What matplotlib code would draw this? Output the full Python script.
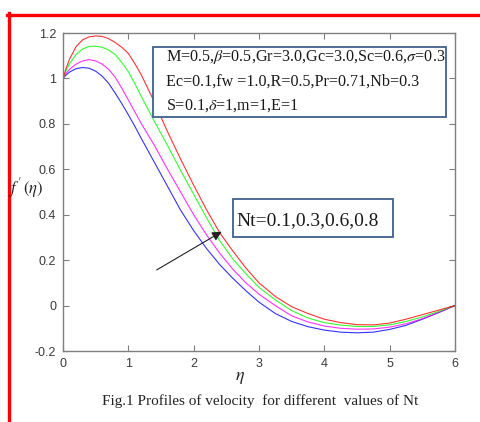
import matplotlib
matplotlib.use("Agg")
import matplotlib.pyplot as plt
from matplotlib.lines import Line2D
from matplotlib.patches import Rectangle

# ---- data ----
eta = [0, 0.05, 0.1, 0.2, 0.3, 0.4, 0.5, 0.6, 0.7, 0.8, 0.9, 1.0, 1.1, 1.2, 1.4, 1.6,
       1.8, 2.0, 2.2, 2.4, 2.6, 2.8, 3.0, 3.25, 3.5, 3.75, 4.0, 4.25, 4.5, 4.75,
       5.0, 5.25, 5.5, 5.75, 6.0]

f_nt01 = [1.0, 1.016, 1.028, 1.043, 1.048, 1.045, 1.032, 1.01, 0.978, 0.935, 0.889,
          0.84, 0.789, 0.735, 0.63, 0.525, 0.42, 0.33, 0.25, 0.18, 0.12, 0.065,
          0.015, -0.035, -0.07, -0.093, -0.108, -0.117, -0.12, -0.117, -0.105,
          -0.087, -0.06, -0.031, 0.0]
f_nt03 = [1.0, 1.023, 1.04, 1.063, 1.077, 1.083, 1.077, 1.063, 1.04, 1.005, 0.957,
          0.905, 0.853, 0.80, 0.705, 0.60, 0.50, 0.40, 0.31, 0.23, 0.16, 0.10, 0.05,
          0.0, -0.045, -0.072, -0.09, -0.10, -0.104, -0.103, -0.095, -0.08, -0.058,
          -0.03, 0.0]
f_nt06 = [1.0, 1.036, 1.065, 1.105, 1.13, 1.141, 1.142, 1.137, 1.125, 1.105, 1.07,
          1.03, 0.977, 0.92, 0.81, 0.705, 0.595, 0.49, 0.385, 0.285, 0.205, 0.14,
          0.08, 0.025, -0.022, -0.055, -0.075, -0.086, -0.092, -0.092, -0.085,
          -0.07, -0.05, -0.026, 0.0]
f_nt08 = [1.0, 1.047, 1.085, 1.14, 1.17, 1.183, 1.187, 1.185, 1.175, 1.158, 1.137,
          1.11, 1.065, 1.015, 0.895, 0.765, 0.645, 0.53, 0.42, 0.32, 0.24, 0.165,
          0.10, 0.04, -0.005, -0.035, -0.06, -0.075, -0.084, -0.085, -0.077,
          -0.06, -0.04, -0.02, 0.0]

series = [f_nt01, f_nt03, f_nt06, f_nt08]
colors = ["#0000FF", "#FF00FF", "#00FF00", "#FF0000"]

xticks = [0, 1, 2, 3, 4, 5, 6]
yticks = [-0.2, 0, 0.2, 0.4, 0.6, 0.8, 1.0, 1.2]
yticklabels = ["-0.2", "0", "0.2", "0.4", "0.6", "0.8", "1", "1.2"]

params_text = ["M=0.5,$\\beta$=0.5,Gr=3.0,Gc=3.0,Sc=0.6,$\\sigma$=0.3",
               "Ec=0.1,fw =1.0,R=0.5,Pr=0.71,Nb=0.3",
               "S=0.1,$\\delta$=1,m=1,E=1"]
nt_label = "Nt=0.1,0.3,0.6,0.8"
caption = "Fig.1 Profiles of velocity  for different  values of Nt"

plt.rcParams["mathtext.fontset"] = "stix"
W, H = 481, 422
fig = plt.figure(figsize=(W / 100, H / 100), dpi=100)
ax = fig.add_axes([63 / W, 1 - 351 / H, (455 - 63) / W, (351 - 33) / H])

for ys, c in zip(series, colors):
    ax.plot(eta, ys, color=c, lw=0.8, alpha=0.8)

ax.set_xlim(0, 6)
ax.set_ylim(-0.2, 1.2)
ax.set_xticks(xticks)
ax.set_xticklabels([str(t) for t in xticks])
ax.set_yticks(yticks)
ax.set_yticklabels(yticklabels)
ax.tick_params(direction="in", length=4, width=0.8, colors="#7f7f7f",
               labelcolor="#3a3a3a", labelsize=9, top=True, right=True,
               pad=5, labelfontfamily="Liberation Sans")
for s in ax.spines.values():
    s.set_color("#7f7f7f")
    s.set_linewidth(1.0)

ax.set_xlabel(r"$\eta$", fontsize=13, color="#222222")
ax.xaxis.set_label_coords((240 - 63) / (455 - 63), -0.055)
fig.text(8 / W, 1 - 188 / H, r"$f^{\prime}\,(\eta)$", fontsize=12,
         va="center", ha="left", color="#222222")

# parameter box
px0, py0, px1, py1 = 153, 47, 446, 117
fig.patches.append(Rectangle((px0 / W, 1 - py1 / H), (px1 - px0) / W, (py1 - py0) / H,
                             transform=fig.transFigure, fill=True, facecolor="white",
                             edgecolor="#41608f", lw=1.3, zorder=5))
for i, t in enumerate(params_text):
    fig.text(166 / W, 1 - (57 + 24.5 * i) / H, t, fontsize=11.6,
             family="Liberation Serif", va="center", ha="left", color="#1a1a1a",
             zorder=6)

# Nt box
bx0, by0, bx1, by1 = 233, 199, 393, 237
fig.patches.append(Rectangle((bx0 / W, 1 - by1 / H), (bx1 - bx0) / W, (by1 - by0) / H,
                             transform=fig.transFigure, fill=True, facecolor="white",
                             edgecolor="#41608f", lw=1.3, zorder=5))
fig.text(236 / W, 1 - 221 / H, nt_label, fontsize=14, family="Liberation Serif",
         va="center", ha="left", color="#1a1a1a", zorder=6)

# arrow
ax.annotate("", xy=((221.7 - 63) / 65.33, (305.7 - 231.7) / 227.5),
            xytext=((156.7 - 63) / 65.33, (305.7 - 270) / 227.5),
            arrowprops=dict(arrowstyle="-|>", color="#222222", lw=0.8,
                            mutation_scale=14, shrinkA=0, shrinkB=0))

# caption
fig.text(260 / W, 1 - 401 / H, caption, fontsize=11, family="Liberation Serif",
         ha="center", va="center", color="#222222")

# red frame lines
fig.add_artist(Line2D([7 / W, 1.0], [1 - 14.5 / H, 1 - 14.5 / H],
                      transform=fig.transFigure, color="#FF0000", lw=2.4))
fig.add_artist(Line2D([8.5 / W, 8.5 / W], [1 - 13 / H, 0.0],
                      transform=fig.transFigure, color="#FF0000", lw=2.4))

fig.savefig("out.png", dpi=100, facecolor="white")
